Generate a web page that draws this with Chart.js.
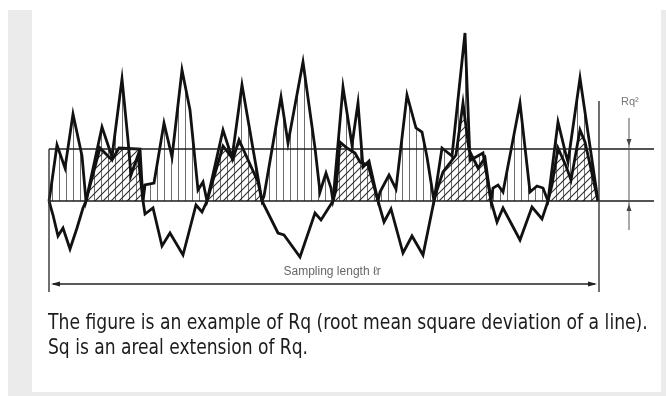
<!DOCTYPE html>
<html>
<head>
<meta charset="utf-8">
<title>Rq - root mean square deviation</title>
<script src="https://cdn.jsdelivr.net/npm/chart.js@4.4.1/dist/chart.umd.min.js"></script>
<style>
  html, body { margin: 0; padding: 0; background: #fff; }
  #page { position: relative; width: 666px; height: 396px; overflow: hidden; background: #fff; }
  .strip { position: absolute; background: #ebebeb; }
  #chart { position: absolute; left: 0; top: 0; }
  .txt { position: absolute; white-space: nowrap; transform-origin: 0 0; }
  #sampling { font: 12px "Liberation Sans", "DejaVu Sans", sans-serif; color: #666; line-height: 12px; }
  #rqLabel { font: 11px "Liberation Sans", "DejaVu Sans", sans-serif; color: #777; line-height: 11px; }
  .caption { font: 22px "Liberation Sans Narrow", "DejaVu Sans Condensed", "Liberation Sans", sans-serif; color: #1c1c1c; line-height: 22px; left: 48px; }
</style>
</head>
<body>
<div id="page">
  <div class="strip" style="left:8px;top:10px;width:24px;height:386px;"></div>
  <div class="strip" style="left:661px;top:10px;width:5px;height:386px;"></div>
  <div class="strip" style="left:8px;top:392px;width:658px;height:4px;"></div>
  <canvas id="chart" width="666" height="396"></canvas>
  <div id="sampling" class="txt">Sampling length ℓr</div>
  <div id="rqLabel" class="txt">Rq²</div>
  <div id="cap1" class="txt caption" style="top:311px;">The figure is an example of Rq (root mean square deviation of a line).</div>
  <div id="cap2" class="txt caption" style="top:336px;">Sq is an areal extension of Rq.</div>
</div>
<script>
// roughness profile Z(x), x along the sampling length, height from the mean line
const profileX = [0, 4, 9, 14, 21, 28, 34, 37, 53, 63, 73, 79, 82, 89, 94,
  96, 104, 113, 121, 134, 147, 153, 158, 174, 183, 193, 213,
  229, 235, 251, 266, 272, 284, 294, 303, 309, 314, 320, 329,
  335, 342, 354, 363, 374, 385, 393, 403, 416, 421, 427, 434, 442,
  448, 454, 471, 483, 493, 499, 509, 517, 519, 531, 549];
const profileY = [0, -14, -35, -27, -48, -27, -7, 0, 74, 44, 122, 61, 26, 46, 0,
  -13, -7, -45, -32, -54, -4, -11, 0, 71, 43, 116, 0,
  -32, -34, -56, -12, -19, 0, 114, 56, 98, 34, 40, 0,
  -21, -8, -52, -35, -54, 0, 53, 45, 168, 41, 44, 48, 0,
  -21, -7, -39, -6, -18, 0, 79, 46, 39, 123, 0];

// squared profile Z²(x)
const squaredX = [0, 2, 8, 16, 24, 33, 37, 51, 63, 70, 91, 94,
  96, 105, 115, 123, 133, 141, 149, 154, 158, 174, 184, 190, 209, 213,
  215, 232, 239, 254, 266, 271, 277, 282, 284, 287, 291, 298, 306, 311, 319, 329,
  331, 340, 347, 358, 367, 373, 378, 385, 388, 394, 407, 414, 420, 429, 436, 442,
  444, 449, 454, 471, 481, 488, 494, 499, 503, 509, 517, 522, 531, 536, 549];
const squaredY = [0, 13, 56, 33, 87, 45, 0, 53, 41, 53, 52, 0,
  16, 18, 78, 44, 131, 91, 11, 19, 0, 55, 42, 61, 19, 0,
  5, 104, 58, 139, 53, 9, 28, 13, 0, 11, 59, 53, 48, 39, 36, 0,
  9, 26, 12, 106, 73, 69, 44, 0, 11, 29, 46, 98, 51, 33, 43, 0,
  13, 16, 9, 98, 9, 15, 13, 0, 16, 53, 35, 21, 71, 59, 0];

const rqSquared = 52;       // height of the Rq² band
const samplingLength = 550; // ℓr

function toPoints(xs, ys) {
  return xs.map((x, i) => ({ x: x, y: ys[i] }));
}

// profile height at any x (linear between read points)
function profileAt(x) {
  for (let i = 1; i < profileX.length; i++) {
    if (x <= profileX[i]) {
      const t = (x - profileX[i - 1]) / (profileX[i] - profileX[i - 1]);
      return profileY[i - 1] + t * (profileY[i] - profileY[i - 1]);
    }
  }
  return 0;
}

// split the squared curve: parts coming from valleys / from peaks
const squaredFromValleys = squaredX.map((x, i) => ({ x: x, y: profileAt(x) < 0 ? squaredY[i] : 0 }));
const squaredFromPeaks = squaredX.map((x, i) => ({ x: x, y: profileAt(x) > 0 ? squaredY[i] : 0 }));

function makePattern(kind) {
  const c = document.createElement("canvas");
  const g = c.getContext("2d");
  if (kind === "vertical") {
    c.width = 7; c.height = 7;
    g.strokeStyle = "#6e6e6e";
    g.lineWidth = 1;
    g.beginPath(); g.moveTo(3.5, 0); g.lineTo(3.5, 7); g.stroke();
  } else {
    c.width = 8; c.height = 8;
    g.strokeStyle = "#2e2e2e";
    g.lineWidth = 1.1;
    g.beginPath();
    g.moveTo(0, 8); g.lineTo(8, 0);
    g.moveTo(-1, 1); g.lineTo(1, -1);
    g.moveTo(7, 9); g.lineTo(9, 7);
    g.stroke();
  }
  return g.createPattern(c, "repeat");
}

const verticalHatch = makePattern("vertical");
const diagonalHatch = makePattern("diagonal");

function arrowHead(ctx, x, y, dx, dy, len, half) {
  ctx.beginPath();
  ctx.moveTo(x, y);
  ctx.lineTo(x - dx * len - dy * half, y - dy * len + dx * half);
  ctx.lineTo(x - dx * len + dy * half, y - dy * len - dx * half);
  ctx.closePath();
  ctx.fill();
}

function line(ctx, x1, y1, x2, y2) {
  ctx.beginPath(); ctx.moveTo(x1, y1); ctx.lineTo(x2, y2); ctx.stroke();
}

const annotations = {
  id: "annotations",
  afterDatasetsDraw(chart) {
    const ctx = chart.ctx;
    const X = (v) => chart.scales.x.getPixelForValue(v);
    const Y = (v) => chart.scales.y.getPixelForValue(v);
    ctx.save();
    // mean line and Rq² line
    ctx.strokeStyle = "#1b1b1b";
    ctx.lineWidth = 1.6;
    line(ctx, X(0), Y(0), X(605), Y(0));
    line(ctx, X(0), Y(rqSquared), X(605), Y(rqSquared));
    // sampling length limits
    ctx.strokeStyle = "#333";
    ctx.lineWidth = 1.4;
    line(ctx, X(0), Y(rqSquared), X(0), Y(-91));
    line(ctx, X(samplingLength), Y(100), X(samplingLength), Y(-91));
    // sampling length arrow
    ctx.fillStyle = "#222";
    ctx.strokeStyle = "#222";
    ctx.lineWidth = 1.5;
    line(ctx, X(0) + 4, Y(-83), X(samplingLength) - 4, Y(-83));
    arrowHead(ctx, X(0) + 2, Y(-83), -1, 0, 9, 2.6);
    arrowHead(ctx, X(samplingLength) - 2, Y(-83), 1, 0, 9, 2.6);
    // Rq² dimension
    ctx.strokeStyle = "#555";
    ctx.fillStyle = "#444";
    ctx.lineWidth = 1;
    line(ctx, X(580), Y(83), X(580), Y(-29));
    arrowHead(ctx, X(580), Y(rqSquared) - 3, 0, 1, 7, 2.5);
    arrowHead(ctx, X(580), Y(0) + 3, 0, -1, 7, 2.5);
    ctx.restore();

    // place the html labels from the scales
    const s = document.getElementById("sampling");
    s.style.left = (X(samplingLength / 2) - s.offsetWidth / 2 + 8) + "px";
    s.style.top = (Y(-70) - 6) + "px";
    const r = document.getElementById("rqLabel");
    r.style.left = (X(581) - r.offsetWidth / 2) + "px";
    r.style.top = (Y(100) - 5) + "px";
  },
};

const lineStyle = { borderColor: "#111", borderWidth: 2.8, borderJoinStyle: "miter", fill: false, order: 1 };

new Chart(document.getElementById("chart"), {
  type: "line",
  data: {
    datasets: [
      { label: "profile hatch", data: toPoints(profileX, profileY), borderWidth: 0,
        fill: { target: "origin", above: verticalHatch, below: "rgba(0,0,0,0)" }, order: 3 },
      { label: "squared valleys hatch", data: squaredFromValleys, borderWidth: 0,
        fill: { target: "origin", above: verticalHatch, below: "rgba(0,0,0,0)" }, order: 3 },
      { label: "squared peaks hatch", data: squaredFromPeaks, borderWidth: 0,
        fill: { target: "origin", above: diagonalHatch, below: "rgba(0,0,0,0)" }, order: 2 },
      Object.assign({ label: "Z²", data: toPoints(squaredX, squaredY) }, lineStyle),
      Object.assign({ label: "Z", data: toPoints(profileX, profileY) }, lineStyle),
    ],
  },
  options: {
    responsive: false,
    animation: false,
    events: [],
    layout: { padding: 0 },
    elements: { point: { radius: 0 }, line: { tension: 0 } },
    scales: {
      x: { type: "linear", min: -49, max: 617, display: false },
      y: { type: "linear", min: -195, max: 201, display: false },
    },
    plugins: { legend: { display: false }, tooltip: { enabled: false } },
  },
  plugins: [annotations],
});

// squeeze the caption lines to the reference widths
function fit(id, width) {
  const el = document.getElementById(id);
  el.style.transform = "none";
  el.style.transform = "scaleX(" + width / el.offsetWidth + ")";
}
function fitAll() {
  fit("cap1", 600);
  fit("cap2", 260);
}
fitAll();
if (document.fonts) document.fonts.ready.then(fitAll);
</script>
</body>
</html>
